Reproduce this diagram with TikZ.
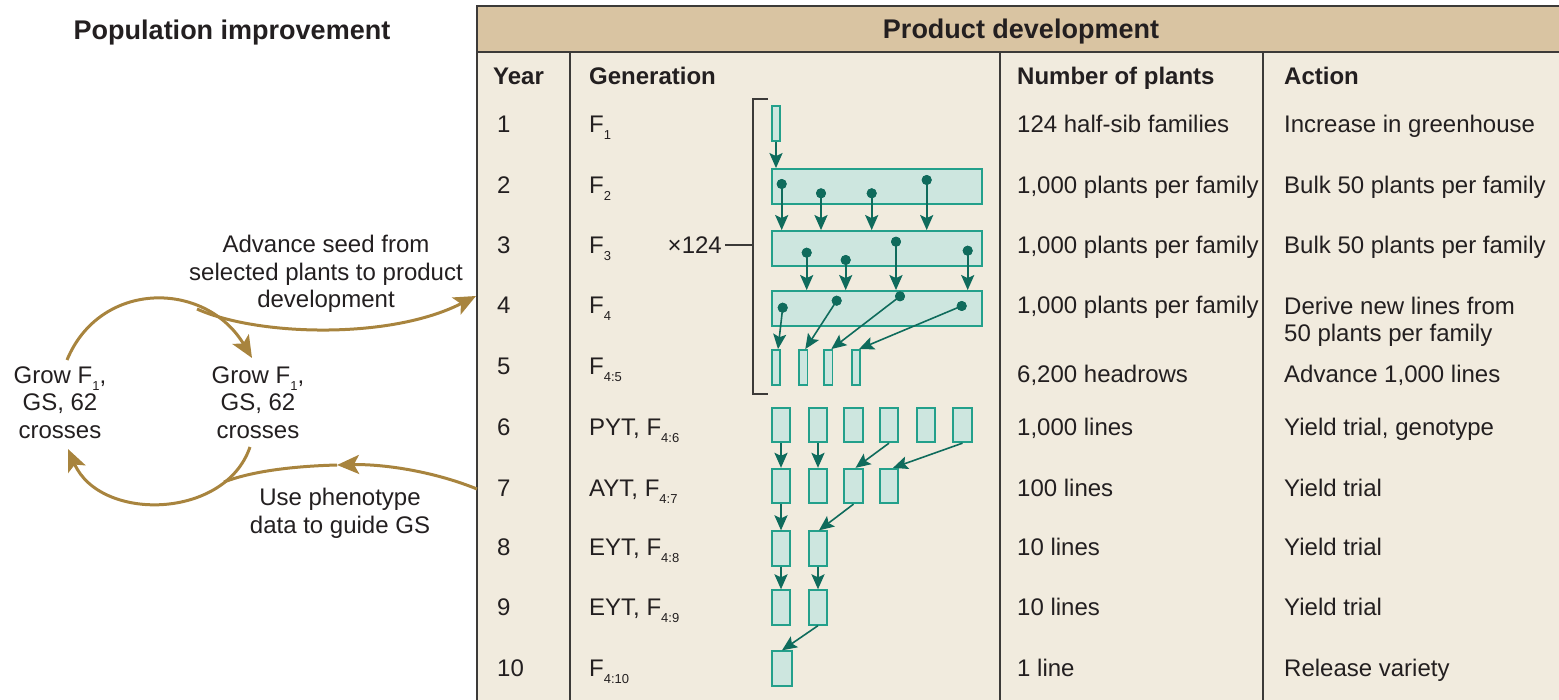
\documentclass[tikz,border=0pt]{standalone}
\usepackage{fontspec}
\setmainfont{Liberation Sans}
\usetikzlibrary{arrows.meta}
\definecolor{ink}{HTML}{231F20}
\definecolor{tanhd}{HTML}{D9C4A2}
\definecolor{bodyc}{HTML}{F1EBDE}
\definecolor{tlinec}{HTML}{3C3A38}
\definecolor{boxfill}{HTML}{CDE6DF}
\definecolor{boxdraw}{HTML}{23A08B}
\definecolor{arrc}{HTML}{0F6B5C}
\definecolor{brn}{HTML}{A8843E}
\newcommand{\gsub}[1]{\raisebox{-7pt}{\fontsize{13}{13}\selectfont #1}}
\begin{document}
\begin{tikzpicture}[x=1pt,y=-1pt,
  txt/.style={font=\fontsize{24}{27.5}\selectfont, text=ink, inner sep=0pt, text height=17.2pt, text depth=0pt, anchor=west},
  hdr/.style={txt, font=\fontsize{24}{27.5}\selectfont\bfseries},
  ttl/.style={font=\fontsize{27}{30}\selectfont\bfseries, text=ink, inner sep=0pt, text height=19.3pt, text depth=0pt},
  blk/.style={font=\fontsize{24}{27.5}\selectfont, text=ink, inner sep=0pt, align=center, anchor=north},
  pb/.style={draw=boxdraw, fill=boxfill, line width=1.8pt, inner sep=0pt, minimum width=18.5pt, minimum height=34.5pt},
  widebox/.style={pb, minimum width=210pt, minimum height=35pt},
  narrow/.style={pb, minimum width=8.2pt, minimum height=35pt},
  dot/.style={circle, fill=arrc, inner sep=0pt, minimum size=10pt},
  arr/.style={draw=arrc, line width=2.2pt, -{Stealth[length=15pt,width=13pt,inset=3pt]}},
  darr/.style={draw=arrc, line width=1.6pt, -{Stealth[length=15pt,width=13pt,inset=3pt]}},
  brnarr/.style={draw=brn, line width=3pt, -{Stealth[length=22pt,width=19pt,inset=5pt]}},
  brnln/.style={draw=brn, line width=3pt},
  tl/.style={draw=tlinec, line width=2pt},
  brk/.style={draw=tlinec, line width=1.5pt}
]
\useasboundingbox (0,0) rectangle (1559,700);
% table background
\fill[bodyc] (477,6) rectangle (1565,706);
\fill[tanhd] (477,6) rectangle (1565,52);
\draw[tl] (1565,6) -- (477,6) -- (477,706);
\draw[tl] (477,52) -- (1565,52);
\draw[tl] (570,52) -- (570,706);
\draw[tl] (1000,52) -- (1000,706);
\draw[tl] (1263,52) -- (1263,706);

% titles
\node[ttl] (tpop) at (232,30) {Population improvement};
\node[ttl] (tprod) at (1021,29) {Product development};

% column headers
\node[hdr] (hyear) at (493,76) {Year};
\node[hdr] (hgen) at (589,76) {Generation};
\node[hdr] (hnum) at (1017,76) {Number of plants};
\node[hdr] (hact) at (1284,76) {Action};

% rows
\node[txt] (y1) at (497,124) {1};
\node[txt] (g1) at (589,124) {F\gsub{1}};
\node[txt] (n1) at (1017,124) {124 half-sib families};
\node[txt] (a1) at (1284,124) {Increase in greenhouse};

\node[txt] (y2) at (497,185) {2};
\node[txt] (g2) at (589,185) {F\gsub{2}};
\node[txt] (n2) at (1017,185) {1,000 plants per family};
\node[txt] (a2) at (1284,185) {Bulk 50 plants per family};

\node[txt] (y3) at (497,245) {3};
\node[txt] (g3) at (589,245) {F\gsub{3}};
\node[txt] (n3) at (1017,245) {1,000 plants per family};
\node[txt] (a3) at (1284,245) {Bulk 50 plants per family};

\node[txt] (y4) at (497,305) {4};
\node[txt] (g4) at (589,305) {F\gsub{4}};
\node[txt] (n4) at (1017,305) {1,000 plants per family};
\node[blk, align=left, anchor=north west] (a4) at (1284,296.5) {Derive new lines from\\50 plants per family};

\node[txt] (y5) at (497,366) {5};
\node[txt] (g5) at (589,366) {F\gsub{4:5}};
\node[txt] (n5) at (1017,374) {6,200 headrows};
\node[txt] (a5) at (1284,374) {Advance 1,000 lines};

\node[txt] (y6) at (497,427) {6};
\node[txt] (g6) at (589,427) {PYT, F\gsub{4:6}};
\node[txt] (n6) at (1017,427) {1,000 lines};
\node[txt] (a6) at (1284,427) {Yield trial, genotype};

\node[txt] (y7) at (497,488) {7};
\node[txt] (g7) at (589,488) {AYT, F\gsub{4:7}};
\node[txt] (n7) at (1017,488) {100 lines};
\node[txt] (a7) at (1284,488) {Yield trial};

\node[txt] (y8) at (497,547) {8};
\node[txt] (g8) at (589,547) {EYT, F\gsub{4:8}};
\node[txt] (n8) at (1017,547) {10 lines};
\node[txt] (a8) at (1284,547) {Yield trial};

\node[txt] (y9) at (497,607) {9};
\node[txt] (g9) at (589,607) {EYT, F\gsub{4:9}};
\node[txt] (n9) at (1017,607) {10 lines};
\node[txt] (a9) at (1284,607) {Yield trial};

\node[txt] (y10) at (497,668) {10};
\node[txt] (g10) at (589,668) {F\gsub{4:10}};
\node[txt] (n10) at (1017,668) {1 line};
\node[txt] (a10) at (1284,668) {Release variety};

% bracket and x124
\draw[brk] (768,99) -- (753,99) -- (753,394) -- (768,394);
\coordinate (bmid) at (753,245);
\node[txt, anchor=east] (x124) at (722,245) {×124};
\draw[brk] ([xshift=3pt]x124.east) -- (bmid);

% boxes
\node[narrow] (p1) at (776,123.5) {};
\node[widebox] (p2) at (877,186.5) {};
\node[widebox] (p3) at (877,248.5) {};
\node[widebox] (p4) at (877,308.5) {};
\foreach \n/\x in {a/776,b/803.3,c/828.3,d/856}
  \node[narrow] (p5\n) at (\x,367.5) {};
\foreach \n/\x in {a/781,b/818,c/853.5,d/889,e/926,f/962.5}
  \node[pb] (p6\n) at (\x,425) {};
\foreach \n/\x in {a/781,b/818,c/853.5,d/889}
  \node[pb] (p7\n) at (\x,486) {};
\foreach \n/\x in {a/781,b/818}
  \node[pb] (p8\n) at (\x,548.5) {};
\foreach \n/\x in {a/781,b/818}
  \node[pb] (p9\n) at (\x,607.5) {};
\node[pb, minimum width=20pt] (p10) at (782,668.5) {};

% dots
\node[dot] (d2a) at (781.7,184) {};
\node[dot] (d2b) at (821,193.3) {};
\node[dot] (d2c) at (871.7,193.3) {};
\node[dot] (d2d) at (926.7,180) {};
\node[dot] (d3a) at (806.7,252.7) {};
\node[dot] (d3b) at (845.7,260) {};
\node[dot] (d3c) at (896,241.7) {};
\node[dot] (d3d) at (967.7,250.7) {};
\node[dot] (d4a) at (782.7,307.7) {};
\node[dot] (d4b) at (836.7,300.7) {};
\node[dot] (d4c) at (900,296.3) {};
\node[dot] (d4d) at (961.7,306) {};

% teal arrows
\draw[arr] (p1.south) -- (p1.south |- p2.north);
\foreach \d in {a,b,c,d} \draw[arr] (d2\d.center) -- (d2\d.center |- p3.north);
\foreach \d in {a,b,c,d} \draw[arr] (d3\d.center) -- (d3\d.center |- p4.north);
\draw[darr] (d4a.center) -- ([xshift=2pt]p5a.north);
\draw[darr] (d4b.center) -- ([xshift=2pt]p5b.north);
\draw[darr] (d4c.center) -- ([xshift=3pt]p5c.north);
\draw[darr] (d4d.center) -- ([xshift=3pt]p5d.north);
\draw[arr] (p6a.south) -- (p7a.north);
\draw[arr] (p6b.south) -- (p7b.north);
\draw[darr] (p6d.south) -- ([xshift=2pt]p7c.north);
\draw[darr] (p6f.south) -- ([xshift=4pt]p7d.north);
\draw[arr] (p7a.south) -- (p8a.north);
\draw[darr] (p7c.south) -- ([xshift=1pt]p8b.north);
\draw[arr] (p8a.south) -- (p9a.north);
\draw[arr] (p8b.south) -- (p9b.north);
\draw[darr] (p9b.south) -- (p10.north);
% redraw dots on top
\foreach \d in {2a,2b,2c,2d,3a,3b,3c,3d,4a,4b,4c,4d} \fill[arrc] (d\d) circle (5pt);

% left side
\node[blk] (L) at (60,366.5) {Grow F\gsub{1},\\GS, 62\\crosses};
\node[blk] (R) at (258,366.5) {Grow F\gsub{1},\\GS, 62\\crosses};
\node[blk] (adv) at (326,235) {Advance seed from\\selected plants to product\\development};
\node[blk] (use) at (340,488) {Use phenotype\\data to guide GS};

\coordinate (ls) at (67,360);
\coordinate (rt) at (252,358);
\coordinate (rb) at (250,447);
\coordinate (lb) at (68,449);
\coordinate (sp1) at (197,309);
\coordinate (tin) at (476,296);
\coordinate (tout) at (477,489);
\coordinate (mh) at (337,465);
\coordinate (mg) at (224,482);

\draw[brnarr] (ls) .. controls (100,280) and (205,280) .. (rt);
\draw[brnarr] (sp1) .. controls (257,336) and (390,340) .. (tin);
\draw[brnarr] (rb) .. controls (225,520) and (100,522) .. (lb);
\draw[brnln] (mh) .. controls (300,466) and (255,470) .. (mg);
\draw[brnarr] (tout) .. controls (430,470) and (380,464) .. (mh);
\end{tikzpicture}
\end{document}
